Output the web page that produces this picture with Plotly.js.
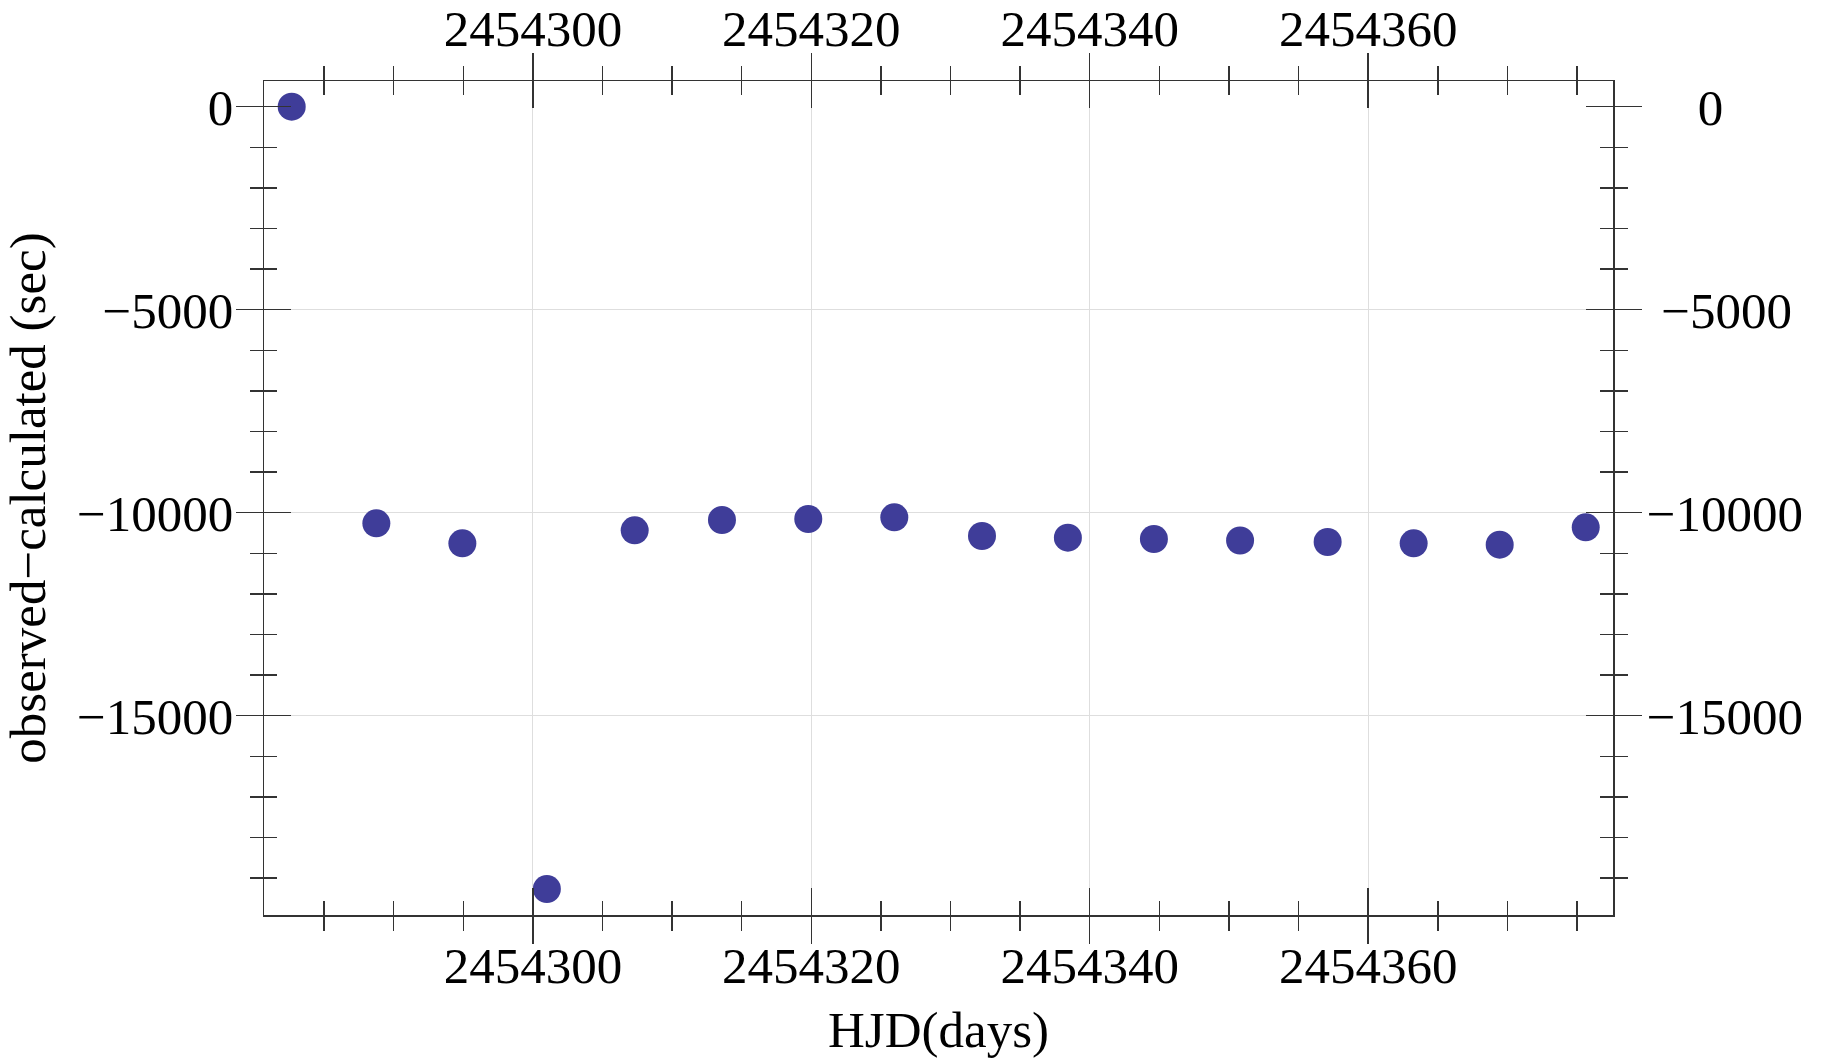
<!DOCTYPE html>
<html>
<head>
<meta charset="utf-8">
<script src="https://cdn.plot.ly/plotly-3.0.1.min.js"></script>
<style>
html, body { margin: 0; padding: 0; background: #fff; }
#chart { width: 1823px; height: 1058px; }
</style>
</head>
<body>
<div id="chart"></div>
<script>
// Data
const hjdDays = [2454282.67, 2454288.75, 2454294.93, 2454301.0, 2454307.31, 2454313.58,
  2454319.78, 2454325.96, 2454332.26, 2454338.43, 2454344.61, 2454350.8,
  2454357.09, 2454363.27, 2454369.45, 2454375.63];
const omcSeconds = [0, -10261, -10754, -19268, -10433, -10180, -10155, -10113,
  -10574, -10616, -10648, -10685, -10722, -10754, -10788, -10360];

const xTickVals = [2454300, 2454320, 2454340, 2454360];
const xTickText = ["2454300", "2454320", "2454340", "2454360"];
const yTickVals = [0, -5000, -10000, -15000];
const yTickText = ["0", "\u22125000", "\u221210000", "\u221215000"];
// right-hand labels are centred in the reference: pad the short ones
const yRightTickText = ["\u2007\u20070", "\u2009\u200A\u22125000", "\u221210000", "\u221215000"];
const yGridVals = [-5000, -10000, -15000];

const xRange = [2454280.68, 2454377.59];
const yRange = [-19909, 633];

const fontFam = "Liberation Serif, Times New Roman, serif";
const lineCol = "#333333";
const gridCol = "#dedede";
const tickFont = { family: fontFam, size: 51, color: "#000" };

const trace = {
  x: hjdDays, y: omcSeconds, type: "scatter", mode: "markers",
  marker: { size: 28, color: "rgb(63,61,153)" },
  hoverinfo: "skip", showlegend: false
};
// empty traces so the overlaid frame axes (top, right, grid) are drawn
const frameTop = { x: [], y: [], type: "scatter", mode: "markers", xaxis: "x2", yaxis: "y", showlegend: false, hoverinfo: "skip" };
const frameRight = { x: [], y: [], type: "scatter", mode: "markers", xaxis: "x", yaxis: "y2", showlegend: false, hoverinfo: "skip" };
const frameGrid = { x: [], y: [], type: "scatter", mode: "markers", xaxis: "x", yaxis: "y3", showlegend: false, hoverinfo: "skip" };

const baseX = {
  visible: true, range: xRange, autorange: false, type: "linear", showline: true, linecolor: lineCol, linewidth: 1.5,
  tickmode: "array", tickvals: xTickVals, ticktext: xTickText, showticklabels: true,
  ticklen: 27, tickwidth: 1.5, tickcolor: lineCol, mirror: "ticks",
  tickfont: tickFont, zeroline: false,
  minor: { tickmode: "linear", tick0: 2454300, dtick: 5, ticklen: 14, tickwidth: 1.5, tickcolor: lineCol, showgrid: false }
};
const baseY = {
  visible: true, range: yRange, autorange: false, type: "linear", showline: true, linecolor: lineCol, linewidth: 1.5,
  tickmode: "array", tickvals: yTickVals, ticktext: yTickText, showticklabels: true,
  ticklen: 27, tickwidth: 1.5, tickcolor: lineCol, mirror: "ticks",
  tickfont: tickFont, zeroline: false, showgrid: false,
  minor: { tickmode: "linear", tick0: 0, dtick: 1000, ticklen: 13, tickwidth: 1.5, tickcolor: lineCol, showgrid: false }
};

const layout = {
  width: 1823, height: 1058,
  margin: { l: 264, r: 210, t: 81, b: 143, pad: 0 },
  paper_bgcolor: "#fff", plot_bgcolor: "#fff",
  hovermode: false, showlegend: false,
  xaxis: Object.assign({}, baseX, {
    side: "bottom", ticks: "outside", showgrid: true, gridcolor: gridCol, gridwidth: 1,
    minor: Object.assign({}, baseX.minor, { ticks: "outside" }),
    title: { text: "HJD(days)", font: { family: fontFam, size: 51, color: "#000" }, standoff: 30 },
    ticklabelstandoff: -22
  }),
  xaxis2: Object.assign({}, baseX, {
    overlaying: "x", anchor: "y", side: "top", ticks: "inside", showgrid: false,
    minor: Object.assign({}, baseX.minor, { ticks: "inside" }),
    ticklabelstandoff: 13
  }),
  yaxis: Object.assign({}, baseY, {
    side: "left", ticks: "outside",
    minor: Object.assign({}, baseY.minor, { ticks: "outside" }),
    title: { text: "observed\u2212calculated (sec)", font: { family: fontFam, size: 51, color: "#000" }, standoff: 16 },
    ticklabelstandoff: -8
  }),
  yaxis2: Object.assign({}, baseY, {
    overlaying: "y", anchor: "x", side: "right", ticks: "inside", ticktext: yRightTickText,
    minor: Object.assign({}, baseY.minor, { ticks: "inside" }),
    ticklabelstandoff: 22
  }),
  yaxis3: {
    visible: true, overlaying: "y", anchor: "x", side: "left", range: yRange, autorange: false, type: "linear",
    tickmode: "array", tickvals: yGridVals, showticklabels: false, ticks: "",
    showline: false, zeroline: false, showgrid: true, gridcolor: gridCol, gridwidth: 1
  }
};

Plotly.newPlot("chart", [frameGrid, frameTop, frameRight, trace], layout, { displayModeBar: false, staticPlot: true });
</script>
</body>
</html>
